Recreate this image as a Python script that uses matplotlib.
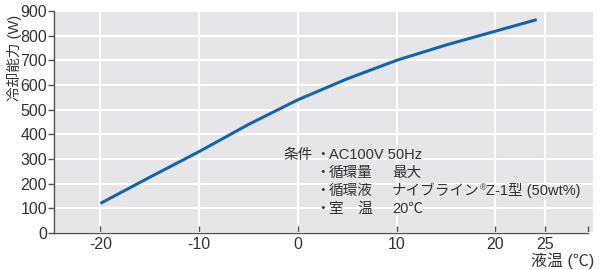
import matplotlib
matplotlib.use("Agg")
import matplotlib.pyplot as plt

plt.rcParams['font.family'] = ['Liberation Sans', 'Noto Sans CJK JP', 'DejaVu Sans']

# data
temp = [-20, -15, -10, -5, 0, 5, 10, 15, 20, 24.2]
capacity = [120, 226, 330, 440, 540, 625, 700, 762, 818, 865]

xticks = [-20, -10, 0, 10, 20, 25]
xticklabels = ["-20", "-10", "0", "10", "20", "25"]
yticks = [0, 100, 200, 300, 400, 500, 600, 700, 800, 900]

cond_head = "条件"
cond_items = ["AC100V 50Hz", "循環量", "循環液", "室　温"]
cond_values = ["", "最大", "ナイブライン", "20℃"]

text_col = "#333333"
fig = plt.figure(figsize=(5.99, 2.70), dpi=100)
ax = fig.add_axes([54/599, 37/270, 539/599, 222/270])
ax.set_facecolor("#e6e6e8")

ax.plot(temp, capacity, color="#1565a8", lw=2.2, solid_capstyle="butt", zorder=3)

ax.set_xlim(-24.7, 29.9)
ax.set_ylim(0, 900)
ax.set_xticks(xticks)
ax.set_xticklabels(xticklabels)
ax.set_xticks([29.4], minor=True)
ax.set_yticks(yticks)
ax.grid(True, color="white", lw=1.5)
ax.set_axisbelow(True)

for s in ["top", "right"]:
    ax.spines[s].set_visible(False)
for s in ["left", "bottom"]:
    ax.spines[s].set_color("#555555")
    ax.spines[s].set_linewidth(1.0)
ax.spines["bottom"].set_bounds(-24.7, 29.4)

ax.tick_params(axis="y", direction="out", length=4, width=1, color="#555555",
               labelsize=11.5, labelcolor=text_col, pad=1)
ax.tick_params(axis="x", which="both", direction="in", length=5, width=1, color="#555555",
               labelsize=11.5, labelcolor=text_col, pad=3)

fig.text(14/599, 1 - 58/270, "冷却能力 (W)", rotation=90, ha="center", va="center",
         fontsize=10.5, color=text_col)
fig.text(594/599, 1 - 261/270, "液温 (℃)", ha="right", va="center",
         fontsize=11.5, color=text_col)

# conditions block
fs = 10.5
line_y = [155, 173, 191, 209]
fig.text(283/599, 1 - line_y[0]/270, cond_head, ha="left", va="center", fontsize=fs, color=text_col)
for i, (item, val) in enumerate(zip(cond_items, cond_values)):
    y = 1 - line_y[i]/270
    fig.text(315/599, y, "・", ha="left", va="center", fontsize=fs, color=text_col)
    fig.text(329/599, y, item, ha="left", va="center", fontsize=fs, color=text_col)
    if val:
        t = fig.text(392/599, y, val, ha="left", va="center", fontsize=fs, color=text_col)
        if i == 2:
            # small raised registered mark, then the rest of the line
            r = ax.annotate("®", xy=(1, 0.75), xycoords=t, ha="left", va="center",
                            fontsize=6.5, color=text_col, annotation_clip=False)
            ax.annotate("Z-1型 (50wt%)", xy=(1, 0.5), xycoords=r, xytext=(0, -2.5),
                        textcoords="offset points", ha="left", va="center",
                        fontsize=fs, color=text_col, annotation_clip=False)

fig.savefig("out.png", dpi=100)
